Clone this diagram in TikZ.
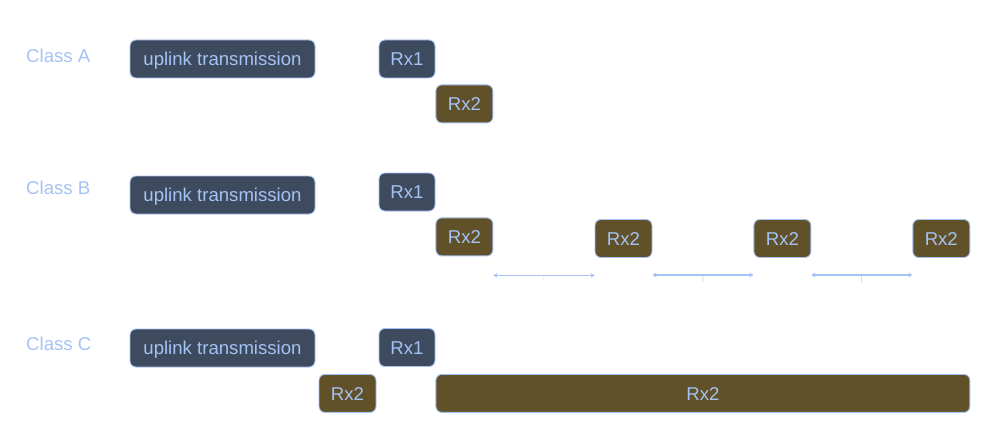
\documentclass[tikz,border=0pt]{standalone}
\usepackage{fontspec}
\setmainfont{Liberation Sans}
\usetikzlibrary{arrows.meta}
\usetikzlibrary{positioning}
\definecolor{slatebox}{HTML}{3E4A5E}
\definecolor{mudbox}{HTML}{615128}
\definecolor{paleblue}{HTML}{A4C2F4}
\tikzset{box node/.style={draw=paleblue,line width=0.9pt,rounded corners=6pt,inner sep=0pt,
            minimum height=38pt,text=paleblue,text height=13.3pt,text depth=0pt,
            font=\fontsize{18.6}{22}\selectfont},
         uplink node/.style={box node,fill=slatebox,minimum width=185pt},
         rx one/.style={box node,fill=slatebox,minimum width=56pt},
         rx two/.style={box node,fill=mudbox,minimum width=57pt},
         class label/.style={anchor=west,inner sep=0pt,text=paleblue,font=\fontsize{18.6}{22}\selectfont},
         gap arrow/.style={draw=paleblue,line width=1.5pt,{Stealth[length=4pt,width=5pt]}-{Stealth[length=4pt,width=5pt]}},
         tick mark/.style={below,inner sep=1pt,text=paleblue,font=\fontsize{7}{8}\selectfont},
            }

\begin{document}
\begin{tikzpicture}[x=1pt,y=-1pt]
    \useasboundingbox (0,0) rectangle (989,444);

    % Class A
    \node[class label] (clsA) at (26,56) {Class A};
    \node[uplink node] (upA) at (222.5,59) {uplink transmission};
    \node[rx one] (rxA1) at (407,59) {Rx1};
    \node[rx two] (rxA2) [below right=6pt and 0pt of rxA1] {Rx2};

    % Class B
    \node[class label] (clsB) at (26,188) {Class B};
    \node[uplink node] (upB) at (222.5,195) {uplink transmission};
    \node[rx one] (rxB1) at (407,192) {Rx1};
    \node[rx two] (rxB2) [below right=6pt and 0pt of rxB1] {Rx2};
    \node[rx two] (rxB3) at (623.5,238.5) {Rx2};
    \node[rx two] (rxB4) [right=101pt of rxB3] {Rx2};
    \node[rx two] (rxB5) [right=101pt of rxB4] {Rx2};

    \draw[gap arrow] ([yshift=-19pt]rxB2.south east) -- ([yshift=-19pt]rxB2.south east -| rxB3.west)
        node[tick mark,midway] {:};
    \draw[gap arrow] ([yshift=-17pt]rxB3.south east) -- ([yshift=-17pt]rxB3.south east -| rxB4.west)
        node[tick mark,midway] {|};
    \draw[gap arrow] ([yshift=-17pt]rxB4.south east) -- ([yshift=-17pt]rxB4.south east -| rxB5.west)
        node[tick mark,midway] {|};

    % Class C
    \node[class label] (clsC) at (26,344) {Class C};
    \node[uplink node] (upC) at (222.5,348) {uplink transmission};
    \node[rx one] (rxC1) at (407,347.5) {Rx1};
    \node[rx two,minimum width=534pt] (rxC3) [below right=7pt and 0pt of rxC1] {Rx2};
    \node[rx two] (rxC2) [left=59pt of rxC3] {Rx2};
\end{tikzpicture}
\end{document}
